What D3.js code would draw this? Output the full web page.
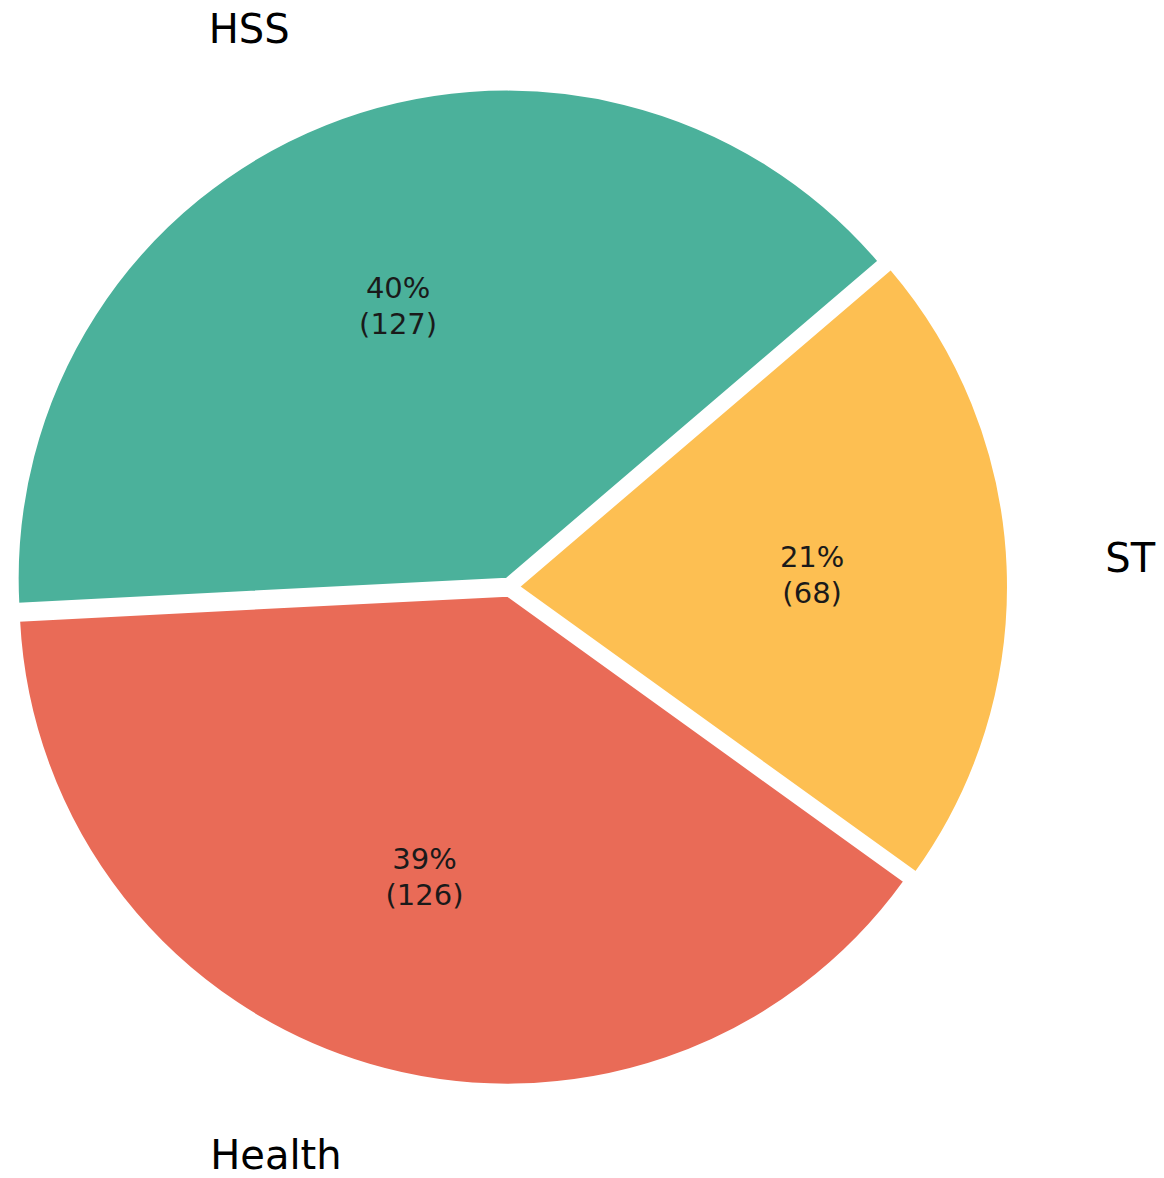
<!DOCTYPE html>
<html>
<head>
<meta charset="utf-8">
<script src="https://cdn.jsdelivr.net/npm/d3@7"></script>
<style>
  html, body { margin: 0; padding: 0; background: #ffffff; }
  svg { display: block; }
</style>
</head>
<body>
<svg id="chart" width="1164" height="1178"></svg>
<script>
// Data (order is counter-clockwise, matplotlib style)
const categories = ["HSS", "Health", "ST"];
const values = [127, 126, 68];
const colors = ["#4bb19b", "#e96b57", "#fdbf52"];

const W = 1164, H = 1178;
const cx = 510, cy = 587, R = 489;
const explode = 9;
const startDeg = 49.5; // d3 angle (clockwise from 12 o'clock)

const svg = d3.select("#chart");
const total = d3.sum(values);

const pie = d3.pie()
  .sort(null)
  .value(d => d.value)
  .startAngle(startDeg * Math.PI / 180)
  .endAngle(startDeg * Math.PI / 180 - 2 * Math.PI);

const data = categories.map((c, i) => ({ name: c, value: values[i], color: colors[i] }));
const arcs = pie(data);
const arc = d3.arc().innerRadius(0).outerRadius(R);

const g = svg.append("g").attr("transform", `translate(${cx},${cy})`);

arcs.forEach(a => {
  const m = (a.startAngle + a.endAngle) / 2;
  const ox = Math.sin(m) * explode, oy = -Math.cos(m) * explode;
  const wg = g.append("g").attr("transform", `translate(${ox},${oy})`);
  wg.append("path")
    .attr("d", arc(a))
    .attr("fill", a.data.color)
    .attr("stroke", "#ffffff")
    .attr("stroke-width", 2)
    .attr("stroke-linejoin", "miter");

  // percentage label
  const pr = 0.6 * R;
  const px = Math.sin(m) * pr, py = -Math.cos(m) * pr;
  const pct = Math.round(a.data.value / total * 100) + "%";
  const t = wg.append("text")
    .attr("x", px).attr("y", py)
    .attr("text-anchor", "middle")
    .attr("font-family", "DejaVu Sans, sans-serif")
    .attr("font-size", 29)
    .attr("fill", "#1a1a1a");
  t.append("tspan").attr("x", px).attr("dy", -8).text(pct);
  t.append("tspan").attr("x", px).attr("dy", 36).text("(" + a.data.value + ")");

  // category label
  const lr = 1.2 * R;
  const lx = Math.sin(m) * lr, ly = -Math.cos(m) * lr;
  wg.append("text")
    .attr("x", lx).attr("y", ly - 4)
    .attr("text-anchor", lx < 0 ? "end" : "start")
    .attr("dominant-baseline", "central")
    .attr("font-family", "DejaVu Sans, sans-serif")
    .attr("font-size", 40)
    .attr("fill", "#000000")
    .text(a.data.name);
});
</script>
</body>
</html>
